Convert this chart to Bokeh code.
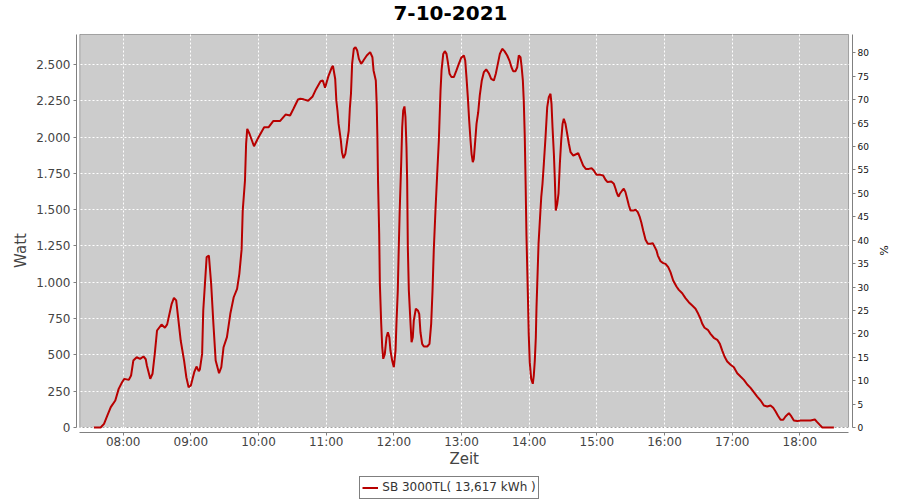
from datetime import datetime, timedelta

from bokeh.plotting import figure
from bokeh.models import (Range1d, LinearAxis, FixedTicker, DatetimeTickFormatter,
                          BoxAnnotation, Legend, LegendItem, Label)
from bokeh.embed import file_html
from bokeh.resources import INLINE

# ---------------- data ----------------
TITLE = "7-10-2021"
X_LABEL = "Zeit"
Y_LABEL = "Watt"
Y2_LABEL = "%"
SERIES_LABEL = "SB 3000TL( 13,617 kWh )"

# time of day as "H:MM.m" (minutes may be fractional)
times = [
    "07:34", "07:40", "07:43", "07:46", "07:49", "07:53", "07:56", "07:59", "08:01", "08:05",
    "08:07", "08:09", "08:12", "08:15", "08:18", "08:20", "08:21", "08:24", "08:26", "08:28",
    "08:30", "08:34", "08:37", "08:39", "08:43", "08:45", "08:47", "08:49", "08:51", "08:54",
    "08:56", "08:58", "09:00", "09:03", "09:05", "09:07", "09:08", "09:10", "09:11", "09:14",
    "09:16", "09:18", "09:20", "09:22", "09:25", "09:27", "09:29", "09:32", "09:35", "09:38",
    "09:41", "09:43", "09:45", "09:46", "09:48", "09:49", "09:50", "09:52", "09:56", "10:00",
    "10:05", "10:09", "10:13", "10:19", "10:24", "10:28", "10:31", "10:35", "10:37", "10:40",
    "10:44", "10:48", "10:51", "10:55", "10:57", "10:59", "11:02", "11:05", "11:06", "11:08",
    "11:09", "11:10", "11:11", "11:13", "11:14", "11:15.3", "11:17", "11:18.5", "11:20", "11:21",
    "11:22", "11:23", "11:24.5", "11:26", "11:27.5", "11:29", "11:31", "11:33", "11:36", "11:39",
    "11:41", "11:42", "11:44", "11:44.8", "11:45.4", "11:46", "11:47", "11:47.6", "11:48.8", "11:49.7",
    "11:50.6", "11:52", "11:53.5", "11:54.7", "11:56", "11:57", "11:58.5", "12:00", "12:01.5", "12:02.3",
    "12:03.5", "12:04.3", "12:05.2", "12:06.5", "12:07.4", "12:08.3", "12:09.4", "12:10.3", "12:11.2", "12:11.8",
    "12:12.4", "12:13.3", "12:14.8", "12:15.7", "12:16.8", "12:17.7", "12:19.5", "12:21.3", "12:22.5", "12:23.6",
    "12:25.1", "12:26.6", "12:29.6", "12:31.6", "12:33.1", "12:34.3", "12:35.4", "12:36.9", "12:38.4", "12:39.9",
    "12:41.4", "12:42.3", "12:43.8", "12:45.2", "12:46.7", "12:47.9", "12:49.4", "12:51.1", "12:53.2", "12:55.5",
    "12:57.6", "12:59.7", "13:02.1", "13:03.3", "13:04.4", "13:05.6", "13:06.8", "13:08", "13:08.9", "13:10",
    "13:10.9", "13:12.2", "13:13.3", "13:14.8", "13:16.2", "13:18", "13:19.8", "13:21.9", "13:24.2", "13:26.3",
    "13:28.7", "13:30.4", "13:32.2", "13:34", "13:36.1", "13:38.1", "13:40.5", "13:42.5", "13:44.3", "13:45.8",
    "13:47.9", "13:49.4", "13:50.8", "13:52.3", "13:53.2", "13:54.4", "13:55.2", "13:56.1", "13:56.8", "13:57.6",
    "13:58.8", "13:59.6", "14:00.5", "14:01.8", "14:03.2", "14:04.1", "14:05", "14:05.9", "14:06.5", "14:07.4",
    "14:08.3", "14:09.4", "14:10", "14:10.7", "14:11.8", "14:13", "14:14.5", "14:16", "14:17.4", "14:18.9",
    "14:19.8", "14:20.7", "14:21.9", "14:22.7", "14:23.6", "14:24.9", "14:26", "14:27.2", "14:28.4", "14:29.6",
    "14:30.7", "14:32.2", "14:33.7", "14:35.2", "14:36.7", "14:39.1", "14:41.1", "14:43.5", "14:45.5", "14:47.9",
    "14:50.2", "14:52.9", "14:55.3", "14:57.3", "14:59.7", "15:03.3", "15:05.6", "15:07.7", "15:09.5", "15:12.8",
    "15:15.1", "15:16.6", "15:17.5", "15:18.6", "15:19.5", "15:20.4", "15:22.5", "15:23.9", "15:25.4", "15:26.9",
    "15:28.4", "15:29.9", "15:32.3", "15:34.3", "15:36.3", "15:38.1", "15:39.4", "15:41.1", "15:43.2", "15:45.2",
    "15:47.6", "15:49.6", "15:51.4", "15:52.9", "15:54.1", "15:56.5", "15:58.9", "16:00.9", "16:03.3", "16:05.3",
    "16:07.7", "16:10.6", "16:12.7", "16:15.7", "16:18.6", "16:21.5", "16:24.6", "16:27.5", "16:29.9", "16:31.9",
    "16:33.5", "16:35.5", "16:38.4", "16:40.8", "16:43.7", "16:46.8", "16:49.1", "16:51.2", "16:53.2", "16:55.6",
    "16:58.6", "17:01.5", "17:04.5", "17:07.4", "17:10.4", "17:13.4", "17:16.3", "17:19.2", "17:22.2", "17:25.2",
    "17:28.1", "17:31.1", "17:34", "17:36.4", "17:38.4", "17:40.5", "17:42.9", "17:45.3", "17:47.3", "17:50.3",
    "17:52.4", "17:54.7", "17:57.7", "18:00.6", "18:09.5", "18:13.3", "18:15.4", "18:17.7", "18:19.9", "18:30.2",
]

watts = [
    0, 0, 25, 83, 140, 186, 266, 312, 335, 328,
    358, 461, 484, 473, 489, 470, 427, 335, 370, 507,
    668, 709, 687, 710, 852, 893, 875, 737, 599, 461,
    346, 277, 289, 381, 420, 388, 400, 507, 806, 1173,
    1184, 990, 714, 461, 374, 415, 553, 622, 783, 897,
    955, 1058, 1225, 1494, 1701, 1954, 2057, 2023, 1937, 1999,
    2068, 2068, 2110, 2110, 2155, 2149, 2195, 2259, 2264, 2260,
    2250, 2280, 2330, 2385, 2390, 2340, 2420, 2480, 2490, 2400,
    2252, 2183, 2091, 1977, 1896, 1855, 1885, 1965, 2045, 2200,
    2300, 2504, 2608, 2619, 2596, 2539, 2504, 2527, 2562, 2585,
    2550, 2459, 2390, 2229, 2000, 1690, 1334, 990, 714, 553,
    473, 507, 622, 656, 622, 530, 461, 415, 530, 714,
    943, 1219, 1494, 1816, 2068, 2183, 2211, 2137, 1930, 1701,
    1242, 943, 714, 587, 622, 737, 818, 806, 783, 656,
    576, 558, 558, 576, 714, 943, 1219, 1494, 1740, 1977,
    2321, 2459, 2573, 2592, 2573, 2516, 2436, 2413, 2413, 2459,
    2504, 2546, 2562, 2527, 2413, 2275, 2114, 1977, 1885, 1827,
    1850, 1977, 2091, 2171, 2287, 2390, 2447, 2466, 2440, 2401,
    2390, 2436, 2504, 2573, 2608, 2592, 2562, 2527, 2481, 2454,
    2454, 2481, 2562, 2550, 2493, 2390, 2252, 2000, 1700, 1320,
    932, 645, 450, 335, 301, 358, 461, 622, 829, 1047,
    1265, 1414, 1494, 1586, 1678, 1816, 2000, 2206, 2275, 2298,
    2229, 2068, 1885, 1724, 1494, 1541, 1610, 1816, 1977, 2091,
    2126, 2091, 2023, 1954, 1896, 1873, 1880, 1889, 1850, 1804,
    1781, 1781, 1786, 1770, 1740, 1740, 1735, 1706, 1690, 1694,
    1678, 1644, 1621, 1598, 1591, 1610, 1632, 1644, 1621, 1575,
    1529, 1494, 1494, 1500, 1483, 1448, 1414, 1357, 1293, 1265,
    1265, 1269, 1242, 1219, 1184, 1145, 1132, 1127, 1104, 1070,
    1012, 971, 948, 925, 891, 863, 840, 818, 783, 749,
    714, 687, 673, 645, 618, 604, 576, 530, 489, 455,
    432, 415, 374, 351, 328, 296, 273, 243, 213, 186,
    152, 145, 152, 136, 112, 83, 53, 53, 76, 99,
    78, 48, 44, 48, 48, 55, 37, 18, 0, 0,
]

hour_ticks = ["08:00", "09:00", "10:00", "11:00", "12:00", "13:00",
              "14:00", "15:00", "16:00", "17:00", "18:00"]
watt_ticks = [0, 250, 500, 750, 1000, 1250, 1500, 1750, 2000, 2250, 2500]
watt_tick_labels = ["0", "250", "500", "750", "1.000", "1.250", "1.500",
                    "1.750", "2.000", "2.250", "2.500"]
pct_ticks = [0, 5, 10, 15, 20, 25, 30, 35, 40, 45, 50, 55, 60, 65, 70, 75, 80]

# ---------------- helpers ----------------
DAY = datetime(2021, 10, 7)
EPOCH = datetime(1970, 1, 1)


def to_ms(s):
    h, m = s.split(":")
    dt = DAY + timedelta(hours=int(h), minutes=float(m))
    return (dt - EPOCH).total_seconds() * 1000.0


xs = [to_ms(t) for t in times]

# ---------------- layout constants ----------------
# the frame covers the whole canvas height; the grey plot area sits inside it
X_FRAME = (to_ms("07:18.6"), to_ms("18:46.7"))
X_PLOT = (to_ms("07:21.5"), to_ms("18:43.2"))
X_MID = (X_PLOT[0] + X_PLOT[1]) / 2.0
X_TITLE = to_ms("12:50.2")
W_TOP = 2706.6                 # top of grey plot area (Watt)
W_FRAME = (-502.75, 2940.7)    # whole canvas height in Watt units
P_TOP = 83.92                  # top of grey plot area (%)
P_FRAME = (-15.59, 91.18)
X_AXIS_AT = -31.0              # Watt value where the time axis line is drawn
Y_XLABEL = -220.0              # Watt value of the "Zeit" label centre
Y_TITLE = 2858.0               # Watt value of the title centre

FONT = "DejaVu Sans"
AXIS_GRAY = "#808080"
TEXT_GRAY = "#444444"
RED = "#b80000"

p = figure(
    x_axis_type="datetime",
    x_range=Range1d(*X_FRAME),
    y_range=Range1d(*W_FRAME),
    frame_width=776, frame_height=500,
    min_border_left=76, min_border_right=40, min_border_top=0, min_border_bottom=0,
    output_backend="svg", toolbar_location=None,
    background_fill_color="white", border_fill_color="white",
    title=None,
)
p.outline_line_color = None

# plot area (grey, black outline)
p.add_layout(BoxAnnotation(left=X_PLOT[0], right=X_PLOT[1], bottom=0, top=W_TOP,
                           fill_color="#cccccc", fill_alpha=1.0,
                           line_color="black", line_width=1, level="image"))

# x axis (drawn at a fixed height just under the grey area)
xa = p.xaxis[0]
xa.ticker = FixedTicker(ticks=[to_ms(t) for t in hour_ticks])
fmt = "%H:%M"
xa.formatter = DatetimeTickFormatter(milliseconds=fmt, seconds=fmt, minsec=fmt, minutes=fmt,
                                     hourmin=fmt, hours=fmt, days=fmt, months=fmt, years=fmt)
xa.bounds = X_PLOT
xa.fixed_location = X_AXIS_AT

# left axis
ya = p.yaxis[0]
ya.ticker = FixedTicker(ticks=watt_ticks)
ya.major_label_overrides = {v: lab for v, lab in zip(watt_ticks, watt_tick_labels)}
ya.axis_label = Y_LABEL
ya.bounds = (0, W_TOP)

# right axis
p.extra_y_ranges = {"pct": Range1d(*P_FRAME)}
ra = LinearAxis(y_range_name="pct", ticker=FixedTicker(ticks=pct_ticks), axis_label=Y2_LABEL,
                bounds=(0, P_TOP))
p.add_layout(ra, "right")

for ax in (xa, ya, ra):
    ax.axis_line_color = AXIS_GRAY
    ax.major_tick_line_color = AXIS_GRAY
    ax.major_tick_out = 3
    ax.major_tick_in = 0
    ax.minor_tick_line_color = None
    ax.major_label_text_font = FONT
    ax.major_label_text_font_size = "12px"
    ax.major_label_text_color = TEXT_GRAY
    ax.major_label_standoff = 3
    ax.axis_label_text_font = FONT
    ax.axis_label_text_font_size = "15px"
    ax.axis_label_text_font_style = "normal"
    ax.axis_label_text_color = TEXT_GRAY
    ax.axis_label_standoff = 3

xa.major_label_standoff = 0
ra.major_label_standoff = 2
ra.major_label_text_font_size = "9px"
ra.major_label_text_color = "#111111"
ra.axis_label_text_font_size = "11px"
ra.axis_label_text_color = "#111111"
ra.axis_label_standoff = 5

# grid
for g in (p.xgrid[0], p.ygrid[0]):
    g.grid_line_color = "white"
    g.grid_line_dash = "2 2"
    g.grid_line_width = 1

r = p.line(xs, watts, line_color=RED, line_width=2)

# title and time-axis label
p.add_layout(Label(x=X_TITLE, y=Y_TITLE, text=TITLE, text_align="center",
                   text_baseline="middle", text_font=FONT, text_font_size="20px",
                   text_font_style="bold", text_color="#000000"))
p.add_layout(Label(x=X_MID, y=Y_XLABEL, text=X_LABEL, text_align="center",
                   text_baseline="middle", text_font=FONT, text_font_size="15px",
                   text_color=TEXT_GRAY))

# legend box at the bottom (offset in pixels from the frame's bottom-left)
legend = Legend(items=[LegendItem(label=SERIES_LABEL, renderers=[r])],
                location=(283.3, 1.3), orientation="horizontal",
                border_line_color="black", border_line_width=1,
                background_fill_color="white", background_fill_alpha=1.0,
                padding=2, spacing=0, margin=0,
                glyph_width=16, glyph_height=17, label_height=17, label_standoff=4,
                label_text_font=FONT, label_text_font_size="12px", label_text_color="#333333")
p.add_layout(legend, "center")

open("out.html", "w").write(file_html(p, INLINE))
